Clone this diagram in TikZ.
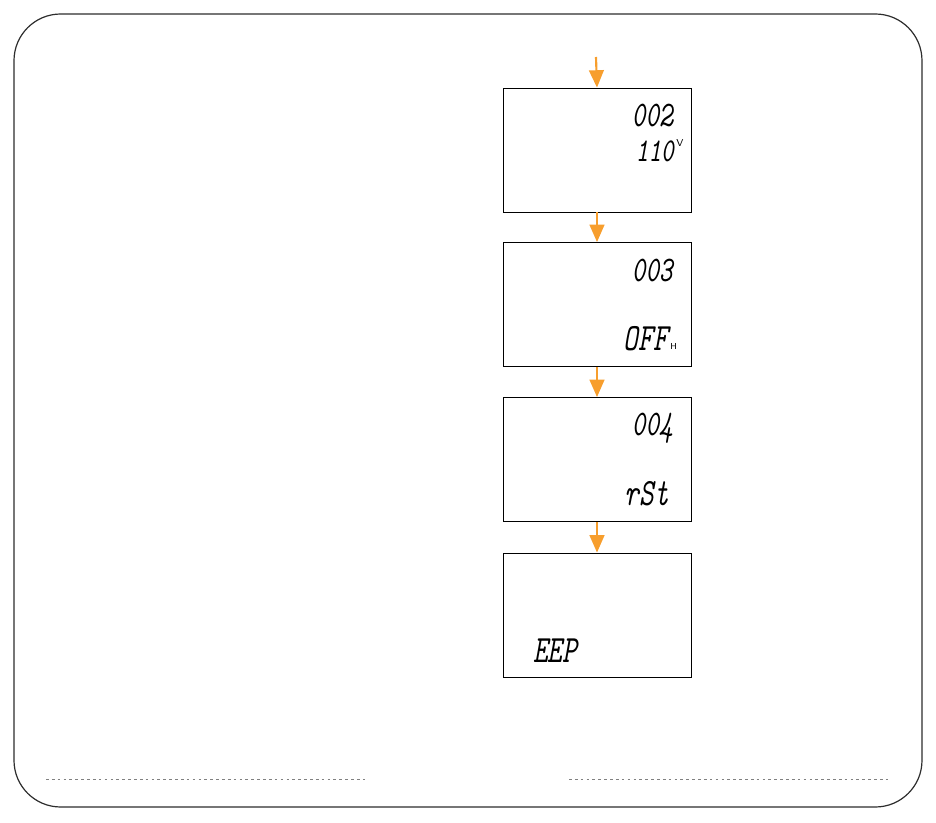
\documentclass[tikz,border=0pt]{standalone}
\usepackage{graphicx}
\usepackage{tikz}
\usetikzlibrary{arrows.meta,positioning,calc}

\definecolor{flowgold}{RGB}{247,158,45}
\definecolor{framegray}{RGB}{45,45,45}
\newcommand\segtext[1]{\scalebox{0.72}[1]{#1}}

\begin{document}
\begin{tikzpicture}[x=0.75pt, y=-0.75pt,
    lcd/.style={rectangle, draw=black, line width=0.65pt,
                minimum width=141pt, minimum height=93pt, inner sep=0pt},
    code/.style={inner sep=0pt, anchor=base east,
                font=\fontsize{27}{27}\selectfont\ttfamily\itshape},
    value/.style={inner sep=0pt,
                font=\fontsize{29}{29}\selectfont\ttfamily\itshape},
    unit/.style={inner sep=0pt, font=\fontsize{7.5}{7.5}\selectfont\sffamily},
    flow/.style={-{Triangle[length=13pt, width=11pt]}, line width=1.6pt, flowgold},
    rule/.style={gray, line width=0.6pt, dash pattern=on 2pt off 2.4pt},
]
\useasboundingbox (0,0) rectangle (936,823);

% --- outer frame ---
\draw[framegray, line width=0.9pt, rounded corners=35pt] (14,14) rectangle (922,807);

% --- display states ---
\node[lcd] (s2) at (597,150) {};
\node[lcd] (s3) at (597,304.5) {};
\node[lcd] (s4) at (597,459.5) {};
\node[lcd] (s5) at (597,615) {};

\coordinate (entry) at (596,57);

% --- display texts ---
\node[code] (c2) at (673,127) {\segtext{002}};
\node[value, anchor=base east, font=\fontsize{25}{25}\selectfont\ttfamily\itshape]
  (v2) at (674,162) {\segtext{110}};
\node[unit, anchor=north west] (u2) at ($(v2.east)+(2,-13)$) {V};

\node[code] (c3) at (673,282) {\segtext{003}};
\node[value, anchor=base east] (v3) at (668,351) {\segtext{OFF}};
\node[unit, anchor=base west, font=\fontsize{6.5}{6.5}\selectfont\sffamily]
  (u3) at (670,350) {H};

\node[code] (c4) at (673,436) {\segtext{004}};
\node[value, anchor=base east] (v4) at (669,506) {\segtext{rSt}};

\node[value, anchor=base west] (v5) at (533,662) {\segtext{EEP}};

% --- flow arrows ---
\draw[flow] (entry) -- (s2.north);
\draw[flow] (s2.south) -- (s3.north);
\draw[flow] (s3.south) -- (s4.north);
\draw[flow] (s4.south) -- (s5.north);

% --- footer rules ---
\draw[rule] (46,779) -- (366,779);
\draw[rule] (569,779) -- (888,779);

\end{tikzpicture}
\end{document}
